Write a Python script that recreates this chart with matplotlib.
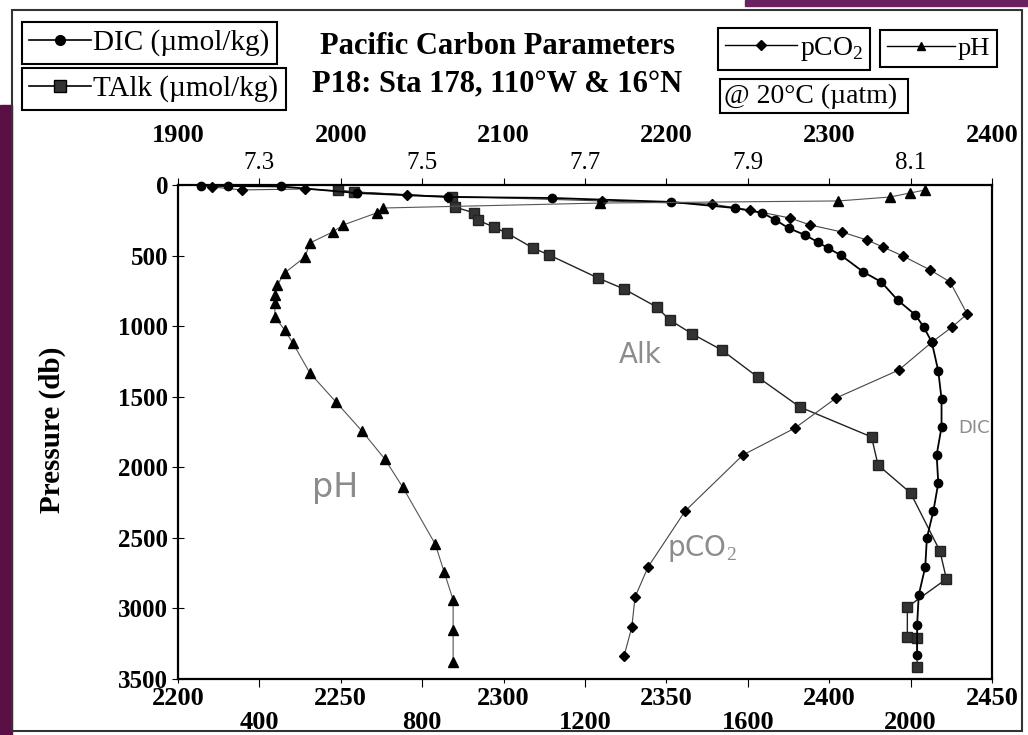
import matplotlib.pyplot as plt
from matplotlib.lines import Line2D
from matplotlib.patches import Rectangle

plt.rcParams['font.family'] = ['Liberation Serif', 'DejaVu Serif']
plt.rcParams['mathtext.fontset'] = 'custom'
plt.rcParams['mathtext.rm'] = 'Liberation Serif'

# values (pressure in db)
dic_p = [5, 8, 10, 57, 85, 92, 120, 163, 198, 248, 305, 354, 404, 446, 496, 616, 687,
         815, 921, 1006, 1112, 1318, 1516, 1715, 1913, 2111, 2310, 2501, 2706, 2905, 3117, 3330]
dic = [1914, 1931, 1963, 2010, 2066, 2130, 2203, 2242, 2259, 2267, 2275, 2285, 2293, 2299, 2307, 2321, 2332,
       2342, 2353, 2358, 2363, 2367, 2369, 2369, 2366, 2367, 2364, 2360, 2359, 2355, 2354, 2354]

talk_p = [35, 50, 85, 156, 198, 248, 298, 340, 446, 496, 659, 737, 864, 956, 1056, 1169, 1360,
          1573, 1785, 1984, 2182, 2593, 2791, 2990, 3202, 3209, 3415]
talk = [2249, 2254, 2284, 2285, 2291, 2292, 2297, 2301, 2309, 2314, 2329, 2337, 2347, 2351, 2358, 2367, 2378,
        2391, 2413, 2415, 2425, 2434, 2436, 2424, 2424, 2427, 2427]

pco2_p = [14, 35, 28, 71, 113, 135, 177, 234, 283, 333, 390, 439, 503, 602, 687, 914, 1006,
          1112, 1311, 1509, 1722, 1913, 2310, 2706, 2919, 3132, 3337]
pco2 = [284, 357, 512, 763, 1242, 1512, 1605, 1704, 1753, 1831, 1893, 1932, 1981, 2048, 2097, 2139, 2102,
        2053, 1971, 1817, 1716, 1588, 1446, 1355, 1323, 1315, 1296]

ph_p = [35, 57, 85, 113, 128, 163, 198, 283, 333, 411, 510, 623, 708, 779, 836, 935, 1027, 1119,
        1332, 1537, 1743, 1941, 2140, 2544, 2742, 2940, 3153, 3380]
ph = [8.118, 8.099, 8.075, 8.011, 7.718, 7.452, 7.444, 7.403, 7.390, 7.362, 7.356, 7.331, 7.322, 7.319,
      7.319, 7.319, 7.331, 7.341, 7.362, 7.394, 7.426, 7.454, 7.476, 7.516, 7.527, 7.538, 7.538, 7.538]

talk_ticks = [2200, 2250, 2300, 2350, 2400, 2450]
pco2_ticks = [400, 800, 1200, 1600, 2000]
dic_ticks = [1900, 2000, 2100, 2200, 2300, 2400]
ph_ticks = [7.3, 7.5, 7.7, 7.9, 8.1]
p_ticks = [0, 500, 1000, 1500, 2000, 2500, 3000, 3500]

W, H = 1028, 735
fig = plt.figure(figsize=(W / 100, H / 100), dpi=100)

# scan border bits
fig.patches.append(Rectangle((0, 0), 12 / W, 630 / H, transform=fig.transFigure,
                             color='#5a0f45', zorder=0))
fig.patches.append(Rectangle((745 / W, 1 - 6 / H), 283 / W, 6 / H, transform=fig.transFigure,
                             color='#6b2060', zorder=0))
fig.patches.append(Rectangle((12 / W, 4 / H), 1010 / W, 721 / H, transform=fig.transFigure,
                             fill=False, ec='#333333', lw=1.5, zorder=1))

ax = fig.add_axes([178 / W, 1 - 679 / H, 814 / W, 494 / H])
ax.set_xlim(2200, 2450)
ax.set_ylim(3500, 0)
ax.set_xticks(talk_ticks)
ax.set_yticks(p_ticks)
for s in ax.spines.values():
    s.set_linewidth(1.6)
ax.tick_params(axis='x', labelsize=19, pad=3, length=3, direction='out')
ax.tick_params(axis='y', labelsize=18, pad=3, length=8, direction='inout')
for t in ax.get_xticklabels() + ax.get_yticklabels():
    t.set_fontweight('bold')
ax.set_ylabel('Pressure (db)', fontsize=21, fontweight='bold')
ax.yaxis.set_label_coords(-0.138, 0.505)

ax_pco2 = ax.twiny()
ax_pco2.set_xlim(200, 2200)
ax_pco2.set_xticks(pco2_ticks)
ax_pco2.xaxis.set_ticks_position('bottom')
ax_pco2.tick_params(axis='x', bottom=True, top=False, labelbottom=True, labeltop=False,
                    labelsize=19, pad=17, length=6, direction='out')
for t in ax_pco2.get_xticklabels():
    t.set_fontweight('bold')

ax_dic = ax.twiny()
ax_dic.set_xlim(1900, 2400)
ax_dic.set_xticks(dic_ticks)
ax_dic.tick_params(axis='x', labelsize=19, pad=22, length=5, direction='out')
for t in ax_dic.get_xticklabels():
    t.set_fontweight('bold')

ax_ph = ax.twiny()
ax_ph.set_xlim(7.2, 8.2)
ax_ph.set_xticks(ph_ticks)
ax_ph.set_xticklabels([f'{v:.1f}' for v in ph_ticks])
ax_ph.tick_params(axis='x', labelsize=18, pad=3, length=5, direction='out')

for a in (ax_pco2, ax_dic, ax_ph):
    for s in a.spines.values():
        s.set_visible(False)

ax.plot(talk, talk_p, color='#222222', lw=1.0, marker='s', ms=6.5, mfc='#333333', mec='#222222', clip_on=False)
ax_pco2.plot(pco2, pco2_p, color='#444444', lw=0.8, marker='D', ms=5.5, mfc='black', mec='black', clip_on=False)
ax_dic.plot(dic, dic_p, color='black', lw=1.3, marker='o', ms=6, mfc='black', mec='black', clip_on=False)
ax_ph.plot(ph, ph_p, color='#555555', lw=0.8, marker='^', ms=6.5, mfc='black', mec='black', clip_on=False)

# titles
fig.text(497 / W, 1 - 46 / H, 'Pacific Carbon Parameters', ha='center', va='center',
         fontsize=22, fontweight='bold')
fig.text(497 / W, 1 - 85 / H, 'P18: Sta 178, 110°W & 16°N', ha='center', va='center',
         fontsize=22, fontweight='bold')

# legend boxes
def box_legend(handle, label, x, y, fs, hl=2.1):
    leg = fig.legend(handles=[handle], labels=[label], loc='upper left',
                     bbox_to_anchor=(x / W, 1 - y / H), frameon=True, fancybox=False,
                     edgecolor='black', framealpha=1, fontsize=fs, handlelength=hl,
                     borderpad=0.25, handletextpad=0.1, borderaxespad=0)
    leg.get_frame().set_linewidth(1.5)
    return leg

box_legend(Line2D([], [], color='black', lw=1.2, marker='o', ms=7), 'DIC (µmol/kg)', 22, 22, 21)
box_legend(Line2D([], [], color='black', lw=1.2, marker='s', ms=8, mfc='#333333'), 'TAlk (µmol/kg)', 22, 68, 21)
box_legend(Line2D([], [], color='black', lw=1.0, marker='D', ms=5), 'pCO$_2$', 718, 28, 20, 2.6)
box_legend(Line2D([], [], color='black', lw=1.0, marker='^', ms=6), 'pH', 880, 30, 19, 2.6)
fig.text(724 / W, 1 - 96 / H, '@ 20°C (µatm) ', ha='left', va='center', fontsize=20,
         bbox=dict(boxstyle='square,pad=0.15', fc='white', ec='black', lw=1.5))

# handwritten notes on the scan
note = dict(color='#8c8c8c', family='DejaVu Sans', ha='center', va='center')
fig.text(335 / W, 1 - 487 / H, 'pH', fontsize=24, **note)
fig.text(640 / W, 1 - 355 / H, 'Alk', fontsize=20, **note)
fig.text(974 / W, 1 - 428 / H, 'DIC', fontsize=13, **note)
fig.text(702 / W, 1 - 548 / H, 'pCO$_2$', fontsize=20, **note)

fig.savefig('out.png', dpi=100)
